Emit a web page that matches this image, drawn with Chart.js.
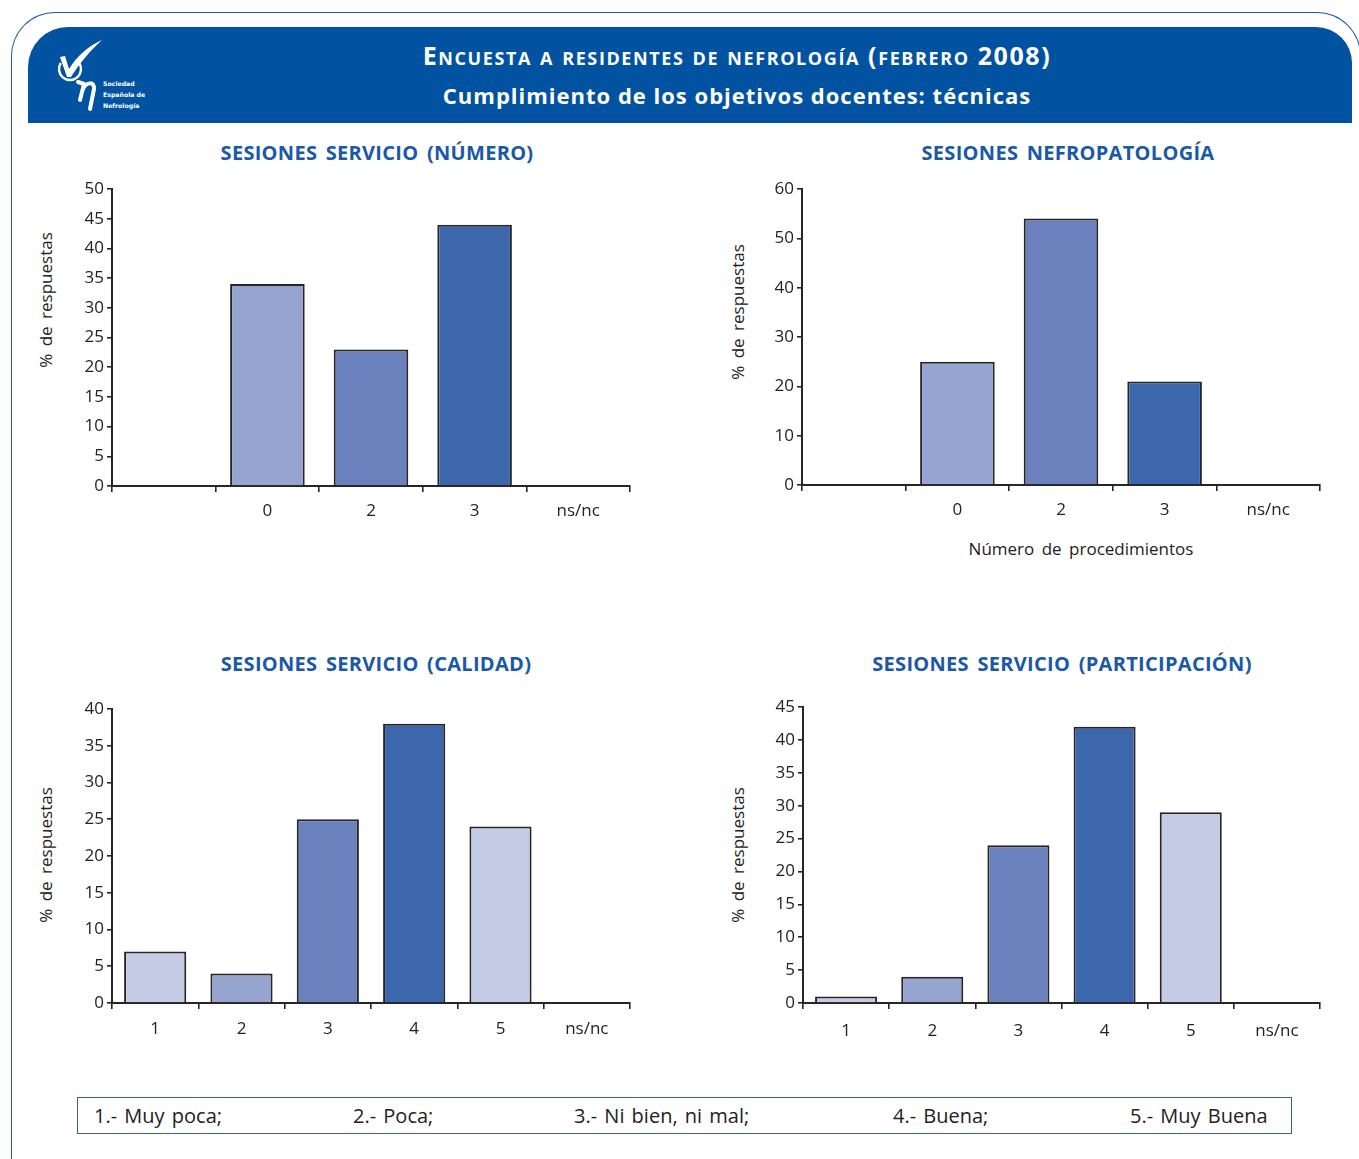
<!DOCTYPE html>
<html lang="es">
<head>
<meta charset="utf-8">
<script src="https://cdn.jsdelivr.net/npm/chart.js@4.4.1/dist/chart.umd.min.js"></script>
<style>
  html, body { margin: 0; padding: 0; background: #fff; }
  body { width: 1359px; height: 1159px; position: relative; overflow: hidden; font-family: 'Open Sans', 'Noto Sans', sans-serif; color: #222; }
  .frame { position: absolute; left: 11px; top: 12px; width: 1350px; height: 1200px; border-left: 1.6px solid #1f5aa6; border-top: 1.6px solid #1f5aa6; border-right: 1.6px solid #1f5aa6; border-radius: 44px 44px 0 0; box-sizing: border-box; }
  .header { position: absolute; left: 28px; top: 27px; width: 1324px; height: 96px; background: #0152a0; border-radius: 40px 36px 0 0; }
  .h1 { position: absolute; left: 737px; top: 55px; transform: translate(-50%, -50%); color: #fff; font-weight: 700; font-size: 25px; font-variant: small-caps; white-space: nowrap; letter-spacing: 1.6px; }
  .h2 { position: absolute; left: 737px; top: 95px; transform: translate(-50%, -50%); color: #fff; font-weight: 700; font-size: 22px; white-space: nowrap; letter-spacing: 1px; }
  .ctitle { position: absolute; transform: translate(-50%, -50%); color: #1b59a6; font-weight: 700; font-size: 20px; white-space: nowrap; word-spacing: 3px; letter-spacing: 0.3px; }
  .ytitle { position: absolute; transform: translate(-50%, -50%) rotate(-90deg); font-size: 17px; white-space: nowrap; word-spacing: 3px; color: #222; }
  .xtitle { position: absolute; transform: translate(-50%, -50%); font-size: 17px; white-space: nowrap; word-spacing: 3px; color: #222; }
  canvas { position: absolute; }
  .legend { position: absolute; left: 77px; top: 1097px; width: 1215px; height: 37px; border: 1.5px solid #2f63ab; box-sizing: border-box; }
  .legend span { position: absolute; top: 50%; transform: translateY(-52%); font-size: 20px; white-space: nowrap; word-spacing: 2px; color: #222; }
  .logo { position: absolute; left: 52px; top: 36px; }
</style>
</head>
<body>
<div class="frame"></div>
<div class="header"></div>
<svg class="logo" width="110" height="80" viewBox="0 0 110 80">
  <path d="M8 21 L13 20 L17 33 C25 20 36 10 50 4 C38 15 27 28 19 41 L15 41 Z" fill="#fff"/>
  <path d="M8.8 27 A11 11 0 1 0 27.2 27" fill="none" stroke="#fff" stroke-width="2.4"/>
  <path d="M26 46 L32 48 L28 64" fill="none" stroke="#fff" stroke-width="4" stroke-linecap="round" stroke-linejoin="round"/>
  <path d="M31 53 C34 46 43 45 42 53 L38 73" fill="none" stroke="#fff" stroke-width="4" stroke-linecap="round" stroke-linejoin="round"/>
  <text x="51" y="50" font-family="DejaVu Sans, sans-serif" font-weight="700" font-size="6.2" fill="#fff">Sociedad</text>
  <text x="51" y="61" font-family="DejaVu Sans, sans-serif" font-weight="700" font-size="6.2" fill="#fff">Española de</text>
  <text x="51" y="72" font-family="DejaVu Sans, sans-serif" font-weight="700" font-size="6.2" fill="#fff">Nefrología</text>
</svg>
<div class="h1">Encuesta a residentes de nefrología (febrero 2008)</div>
<div class="h2">Cumplimiento de los objetivos docentes: técnicas</div>

<div class="ctitle" style="left:377px; top:152px;">SESIONES SERVICIO (NÚMERO)</div>
<div class="ctitle" style="left:1068px; top:152px;">SESIONES NEFROPATOLOGÍA</div>
<div class="ctitle" style="left:376px; top:663px;">SESIONES SERVICIO (CALIDAD)</div>
<div class="ctitle" style="left:1062px; top:663px;">SESIONES SERVICIO (PARTICIPACIÓN)</div>

<div class="ytitle" style="left:45px; top:300px;">% de respuestas</div>
<div class="ytitle" style="left:737px; top:312px;">% de respuestas</div>
<div class="ytitle" style="left:45px; top:855px;">% de respuestas</div>
<div class="ytitle" style="left:737px; top:855px;">% de respuestas</div>
<div class="xtitle" style="left:1081px; top:548px;">Número de procedimientos</div>

<canvas id="c1"></canvas>
<canvas id="c2"></canvas>
<canvas id="c3"></canvas>
<canvas id="c4"></canvas>

<div class="legend" id="legend"></div>

<script>
// ---- Data ----
const numeroCategories = ['', '0', '2', '3', 'ns/nc'];
const numeroValues = [null, 34, 23, 44, 0];

const nefroCategories = ['', '0', '2', '3', 'ns/nc'];
const nefroValues = [null, 25, 54, 21, 0];

const calidadCategories = ['1', '2', '3', '4', '5', 'ns/nc'];
const calidadValues = [7, 4, 25, 38, 24, 0];

const participacionCategories = ['1', '2', '3', '4', '5', 'ns/nc'];
const participacionValues = [1, 4, 24, 42, 29, 0];

const yMaxNumero = 50, yStepNumero = 5;
const yMaxNefro = 60, yStepNefro = 10;
const yMaxCalidad = 40, yStepCalidad = 5;
const yMaxParticipacion = 45, yStepParticipacion = 5;

const legendLabels = ['1.- Muy poca;', '2.- Poca;', '3.- Ni bien, ni mal;', '4.- Buena;', '5.- Muy Buena'];

// ---- Styles ----
const C_LIGHTEST = '#c5cce6', C_LIGHT = '#96a5d0', C_MID = '#6a81bd', C_DARK = '#3d67ad';
const colorsNumero = [C_LIGHT, C_LIGHT, C_MID, C_DARK, C_LIGHT];
const colorsScale = [C_LIGHTEST, C_LIGHT, C_MID, C_DARK, C_LIGHTEST, C_LIGHTEST];
const legendX = [16, 275, 496, 815, 1052];

const PAD_L = 60, PAD_T = 20, PAD_R = 20, PAD_B = 45;

function makeChart(id, area, labels, values, colors, yMax, yStep, tickPad) {
  const cv = document.getElementById(id);
  const w = area.x1 - area.x0 + PAD_L + PAD_R;
  const h = area.yb - area.y0 + PAD_T + PAD_B;
  cv.width = w; cv.height = h;
  cv.style.left = (area.x0 - PAD_L) + 'px';
  cv.style.top = (area.y0 - PAD_T) + 'px';
  cv.style.width = w + 'px'; cv.style.height = h + 'px';
  new Chart(cv, {
    type: 'bar',
    data: {
      labels: labels,
      datasets: [{
        data: values,
        backgroundColor: colors,
        borderColor: '#262626',
        borderWidth: 2,
        categoryPercentage: 1,
        barPercentage: 0.72
      }]
    },
    options: {
      responsive: false,
      animation: false,
      devicePixelRatio: 1,
      layout: { padding: { left: 0, top: PAD_T, right: PAD_R, bottom: 0 } },
      plugins: { legend: { display: false }, tooltip: { enabled: false } },
      scales: {
        x: {
          offset: true,
          grid: { offset: true, drawOnChartArea: false, drawTicks: true, tickLength: 6, color: '#262626', lineWidth: 1.6 },
          border: { color: '#262626', width: 2 },
          ticks: { color: '#222', font: { family: "'Open Sans', 'Noto Sans', sans-serif", size: 17 }, padding: tickPad, maxRotation: 0, autoSkip: false },
          afterFit: s => { s.height = PAD_B; }
        },
        y: {
          min: 0, max: yMax,
          grid: { drawOnChartArea: false, drawTicks: true, tickLength: 5, color: '#262626', lineWidth: 1.6 },
          border: { color: '#262626', width: 2 },
          ticks: { stepSize: yStep, color: '#222', font: { family: "'Open Sans', 'Noto Sans', sans-serif", size: 17 }, padding: 3 },
          afterFit: s => { s.width = PAD_L; }
        }
      }
    }
  });
}

makeChart('c1', { x0: 112, x1: 630, y0: 189, yb: 486 }, numeroCategories, numeroValues, colorsNumero, yMaxNumero, yStepNumero, 9);
makeChart('c2', { x0: 802, x1: 1320, y0: 189, yb: 485 }, nefroCategories, nefroValues, colorsNumero, yMaxNefro, yStepNefro, 9);
makeChart('c3', { x0: 112, x1: 630, y0: 709, yb: 1003 }, calidadCategories, calidadValues, colorsScale, yMaxCalidad, yStepCalidad, 10);
makeChart('c4', { x0: 803, x1: 1320, y0: 707, yb: 1003 }, participacionCategories, participacionValues, colorsScale, yMaxParticipacion, yStepParticipacion, 12);

const lg = document.getElementById('legend');
legendLabels.forEach((t, i) => {
  const s = document.createElement('span');
  s.textContent = t;
  s.style.left = legendX[i] + 'px';
  lg.appendChild(s);
});
</script>
</body>
</html>
